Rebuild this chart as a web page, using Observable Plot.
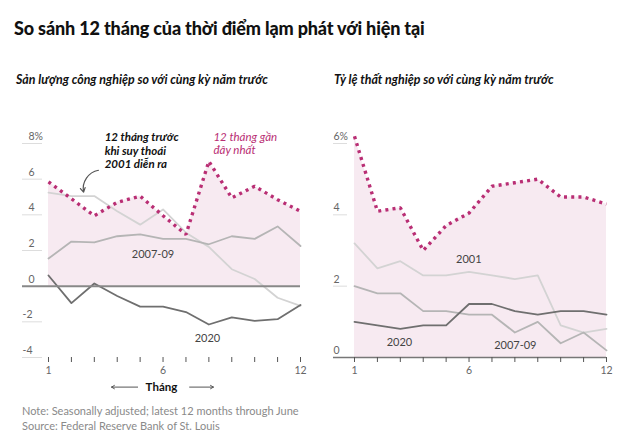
<!DOCTYPE html>
<html><head><meta charset="utf-8">
<script src="https://cdn.jsdelivr.net/npm/d3@7"></script>
<script src="https://cdn.jsdelivr.net/npm/@observablehq/plot@0.6"></script>
<style>
body{margin:0;background:#fff;width:640px;height:447px;position:relative;overflow:hidden;font-family:Lato,sans-serif}
.abs{position:absolute;white-space:nowrap}
#title{left:14px;top:17px;font-size:18px;letter-spacing:-0.15px;font-weight:900;color:#111;font-family:Lato}
.sub{top:72px;font-size:12.4px;font-weight:700;font-style:italic;color:#111}
.note{left:22px;font-size:11px;color:#8a8a8a}
#left{left:0;top:100px}
#right{left:320px;top:100px}
</style></head><body>
<div id="title" class="abs">So sánh 12 tháng của thời điểm lạm phát với hiện tại</div>
<div class="abs sub" style="left:16px">Sản lượng công nghiệp so với cùng kỳ năm trước</div>
<div class="abs sub" style="left:334px">Tỷ lệ thất nghiệp so với cùng kỳ năm trước</div>
<div id="left" class="abs"></div>
<div id="right" class="abs"></div>
<div class="abs note" style="top:404px">Note: Seasonally adjusted; latest 12 months through June</div>
<div class="abs note" style="top:419px">Source: Federal Reserve Bank of St. Louis</div>
<script>
const months = [1,2,3,4,5,6,7,8,9,10,11,12];
const ipRecent = [5.85, 4.9, 3.95, 4.7, 5.05, 3.95, 2.9, 7.0, 4.95, 5.6, 4.85, 4.2];
const ip2001   = [5.25, 5.05, 5.05, 4.2, 3.45, 4.3, 3.0, 2.2, 0.95, 0.4, -0.65, -1.1];
const ip2007   = [1.55, 2.5, 2.45, 2.8, 2.9, 2.65, 2.65, 2.35, 2.8, 2.65, 3.35, 2.25];
const ip2020   = [0.6, -0.95, 0.15, -0.55, -1.15, -1.15, -1.45, -2.15, -1.75, -1.95, -1.85, -1.05];
const urRecent = [6.2, 4.1, 4.2, 3.0, 3.7, 4.05, 4.8, 4.9, 5.0, 4.5, 4.5, 4.3];
const ur2001   = [3.2, 2.5, 2.7, 2.3, 2.3, 2.4, 2.3, 2.2, 2.3, 0.9, 0.7, 0.8];
const ur2007   = [2.0, 1.8, 1.8, 1.3, 1.3, 1.2, 1.2, 0.7, 1.0, 0.4, 0.7, 0.2];
const ur2020   = [1.0, 0.9, 0.8, 0.9, 0.9, 1.5, 1.5, 1.3, 1.2, 1.3, 1.3, 1.2];
const ipTicks = [-4,-2,0,2,4,6,8];
const urTicks = [0,2,4,6];
const xTickLabels = [1,6,12];

const PINK = "#b92e74", FILL = "#f7eaf1";
const C2001 = "#d3d3d3", C2007 = "#b5b5b5", C2020 = "#6f6f6f";
const rows = vals => months.map((m,i)=>({m, v: vals[i]}));

function lineMarks(recent, s2001, s2007, s2020){
  return [
    Plot.areaY(rows(recent), {x:"m", y:"v", fill: FILL}),
    Plot.lineY(rows(s2001), {x:"m", y:"v", stroke: C2001, strokeWidth: 1.8}),
    Plot.lineY(rows(s2007), {x:"m", y:"v", stroke: C2007, strokeWidth: 1.8}),
    Plot.lineY(rows(s2020), {x:"m", y:"v", stroke: C2020, strokeWidth: 1.8}),
  ];
}
const dotted = recent => Plot.lineY(rows(recent), {x:"m", y:"v", stroke: PINK, strokeWidth: 3.4, strokeDasharray: "3,4.2", strokeLinecap: "butt", strokeLinejoin: "miter"});
const xAxis = Plot.axisX({ticks: months, tickSize: 5, stroke: "#555", label: null, tickFormat: d => xTickLabels.includes(d) ? d : "", fontSize: 10.5, fill: "#666", tickPadding: 4});
const labelStyle = {fontSize: 11, fill: "#444", fontFamily: "Lato"};

const left = Plot.plot({
  width: 320, height: 300,
  marginLeft: 42, marginRight: 20, marginTop: 43, marginBottom: 43,
  style: {fontFamily: "Lato", background: "transparent", overflow: "visible"},
  x: {domain: [1,12], insetLeft: 6, axis: null},
  y: {domain: [-4,8], axis: null},
  marks: [
    ...lineMarks(ipRecent, ip2001, ip2007, ip2020),
    Plot.axisY({ticks: ipTicks.filter(d=>d!==0), tickSize: 20, label: null, tickFormat: () => "", stroke: "#ddd"}),
    Plot.ruleY([0], {stroke: "#888", strokeWidth: 2, insetLeft: -20}),
    Plot.text(ipTicks.filter(d=>d>=0), {y: d=>d, frameAnchor: "left", dx: -14, dy: -7, textAnchor: "start", text: d => d===8 ? "8%" : String(d), fontSize: 10.5, fill: "#666"}),
    Plot.text(ipTicks.filter(d=>d<0), {y: d=>d, frameAnchor: "left", dx: -20, dy: -7, textAnchor: "start", text: d => "-" + Math.abs(d), fontSize: 10.5, fill: "#666"}),
    dotted(ipRecent),
    xAxis,
    Plot.text(["2007-09"], {x: 5.56, y: 1.79, text: d=>d, ...labelStyle}),
    Plot.text(["2020"], {x: 7.94, y: -2.91, text: d=>d, ...labelStyle}),
    Plot.text(["12 tháng trước\nkhi suy thoái\n2001 diễn ra"], {x: 3.45, y: 8.4, text: d=>d, textAnchor: "start", lineAnchor: "middle", lineHeight: 1.15, fontSize: 11.5, fontWeight: 700, fontStyle: "italic", fill: "#111", dy: 14}),
    Plot.text(["12 tháng gần\nđây nhất"], {x: 8.2, y: 8.4, text: d=>d, textAnchor: "start", lineAnchor: "middle", lineHeight: 1.15, fontSize: 11.5, fontStyle: "italic", fill: PINK, dy: 7}),
    Plot.arrow([0], {x1: 3.18, y1: 6.5, x2: 2.53, y2: 5.27, bend: -45, stroke: "#555", strokeWidth: 1.2, headLength: 6}),
    Plot.text(["Tháng"], {x: 5.93, y: -5.66, text: d=>d, fontSize: 11.5, fontWeight: 700, fill: "#111"}),
    Plot.arrow([0], {x1: 4.89, y1: -5.66, x2: 3.75, y2: -5.66, stroke: "#555", strokeWidth: 1, headLength: 5}),
    Plot.arrow([0], {x1: 7.16, y1: -5.66, x2: 8.2, y2: -5.66, stroke: "#555", strokeWidth: 1, headLength: 5}),
  ]
});
document.getElementById("left").append(left);

const right = Plot.plot({
  width: 320, height: 300,
  marginLeft: 27, marginRight: 34, marginTop: 43, marginBottom: 43,
  style: {fontFamily: "Lato", background: "transparent", overflow: "visible"},
  x: {domain: [1,12], insetLeft: 7, axis: null},
  y: {domain: [0,6], axis: null},
  marks: [
    ...lineMarks(urRecent, ur2001, ur2007, ur2020),
    Plot.axisY({ticks: urTicks.filter(d=>d!==0), tickSize: 14, label: null, tickFormat: () => "", stroke: "#ddd"}),
    Plot.ruleY([0], {stroke: "#777", strokeWidth: 1.5, insetLeft: -14}),
    Plot.text(urTicks, {y: d=>d, frameAnchor: "left", dx: -14, dy: -7, textAnchor: "start", text: d => d===6 ? "6%" : String(d), fontSize: 10.5, fill: "#666"}),
    dotted(urRecent),
    xAxis,
    Plot.text(["2001"], {x: 5.99, y: 2.75, text: d=>d, ...labelStyle}),
    Plot.text(["2020"], {x: 2.96, y: 0.43, text: d=>d, ...labelStyle}),
    Plot.text(["2007-09"], {x: 8.02, y: 0.34, text: d=>d, ...labelStyle}),
  ]
});
document.getElementById("right").append(right);
</script>
</body></html>
